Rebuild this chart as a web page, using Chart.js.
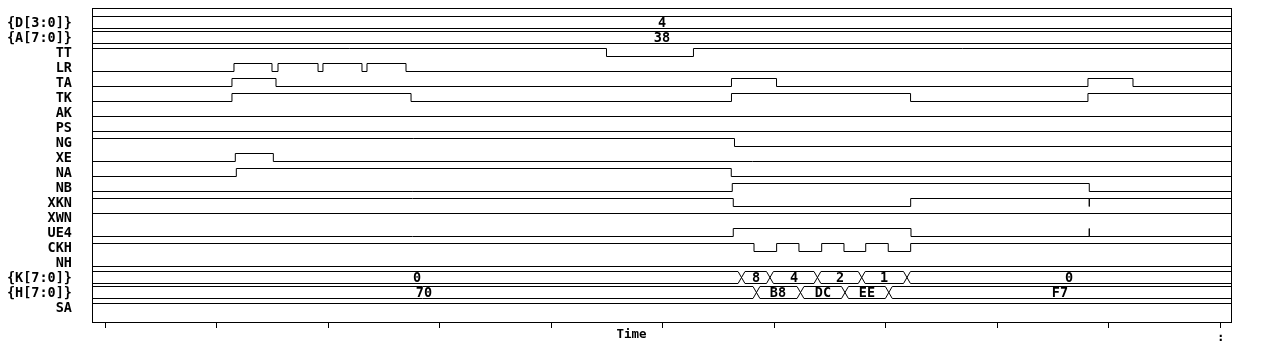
<!DOCTYPE html>
<html>
<head>
<meta charset="utf-8">
<script src="https://cdn.jsdelivr.net/npm/chart.js@4/dist/chart.umd.min.js"></script>
<style>
  html, body { margin: 0; padding: 0; background: #fff; }
  #wrap { width: 1273px; height: 351px; }
</style>
</head>
<body>
<div id="wrap"><canvas id="wave"></canvas></div>
<script>
// rows, top to bottom
const signalNames = ["{D[3:0]}", "{A[7:0]}", "TT", "LR", "TA", "TK", "AK", "PS", "NG", "XE",
                     "NA", "NB", "XKN", "XWN", "UE4", "CKH", "NH", "{K[7:0]}", "{H[7:0]}", "SA"];
const timeTicks = [0, 100, 200, 300, 400, 500, 600, 700, 800, 900, 1000];

// single bit signals: level at start, then the times where it toggles
const bitNames = ["TT", "LR", "TA", "TK", "AK", "PS", "NG", "XE", "NA", "NB", "XKN", "XWN", "UE4", "CKH", "NH", "SA"];
const bitStart = [1, 0, 0, 0, 0, 0, 1, 0, 0, 0, 1, 1, 0, 1, 0, 1];
const bitEdges = [
  [449.5, 527.5],
  [115.4, 149.5, 154.9, 190.8, 195.2, 230.2, 234.7, 269.7],
  [113.6, 153.1, 561.6, 602.0, 881.3, 921.7],
  [113.6, 274.2, 561.6, 722.2, 881.3],
  [],
  [],
  [564.3],
  [116.6, 150.7],
  [117.5, 561.4],
  [562.3, 882.5],
  [563.2, 722.3, 882.5, 882.5],
  [],
  [563.2, 722.6, 882.5, 882.5],
  [581.8, 602.1, 622.1, 642.5, 662.5, 682.0, 702.2, 722.3],
  [],
  []
];

// buses: values shown and the times where the value changes
const busNames = ["{D[3:0]}", "{A[7:0]}", "{K[7:0]}", "{H[7:0]}"];
const busValues = [["4"], ["38"], ["0", "8", "4", "2", "1", "0"], ["70", "B8", "DC", "EE", "F7"]];
const busEdges = [[], [], [570.6, 596.1, 638.7, 678.4, 719.0], [584.0, 623.5, 663.4, 702.7]];

// axis ranges
const xMin = -11.93, xMax = 1010.5;
const yMin = -14.5 / 15, yMax = -14.5 / 15 + 314 / 15;
const timeTitleAt = 472;

const bitSwing = 4 / 15;   // half height of a bit trace
const busSwing = 6 / 15;   // half height of a bus trace
const busSlope = 3.1;      // half width of a bus crossing

const black = "#000";
const monoFont = '"DejaVu Sans Mono", "Liberation Mono", monospace';

function lineSet(points, stepped) {
  return {
    data: points,
    borderColor: black,
    borderWidth: 1,
    pointRadius: 0,
    fill: false,
    tension: 0,
    stepped: stepped
  };
}

const datasets = [];

bitNames.forEach((name, i) => {
  const row = signalNames.indexOf(name);
  let level = bitStart[i];
  const yOf = l => row + (l ? -bitSwing : bitSwing);
  const pts = [{ x: xMin, y: yOf(level) }];
  bitEdges[i].forEach(t => {
    level = 1 - level;
    pts.push({ x: t, y: yOf(level) });
  });
  pts.push({ x: xMax, y: yOf(level) });
  datasets.push(lineSet(pts, true));
});

busNames.forEach((name, b) => {
  const row = signalNames.indexOf(name);
  [1, -1].forEach(side => {
    let s = side;
    const pts = [{ x: xMin, y: row - s * busSwing }];
    busEdges[b].forEach(t => {
      pts.push({ x: t - busSlope, y: row - s * busSwing });
      s = -s;
      pts.push({ x: t + busSlope, y: row - s * busSwing });
    });
    pts.push({ x: xMax, y: row - s * busSwing });
    datasets.push(lineSet(pts, false));
  });
});

// frame, bus values, axis title
const waveText = {
  id: "waveText",
  afterDatasetsDraw(chart) {
    const { ctx, chartArea: a, scales: { x, y } } = chart;
    ctx.save();
    ctx.strokeStyle = black;
    ctx.lineWidth = 1;
    const l = Math.round(a.left), t = Math.round(a.top);
    ctx.strokeRect(l + 0.5, t + 0.5, Math.round(a.right) - l - 1, Math.round(a.bottom) - t);

    ctx.fillStyle = black;
    ctx.textAlign = "center";
    ctx.textBaseline = "middle";
    ctx.font = "bold 13.5px " + monoFont;
    busNames.forEach((name, b) => {
      const row = signalNames.indexOf(name);
      const bounds = [xMin, ...busEdges[b], xMax];
      busValues[b].forEach((v, k) => {
        const mid = (x.getPixelForValue(bounds[k]) + x.getPixelForValue(bounds[k + 1])) / 2;
        ctx.fillText(v, Math.round(mid), y.getPixelForValue(row) + 1);
      });
    });

    ctx.font = "bold 12.5px " + monoFont;
    ctx.fillText("Time", x.getPixelForValue(timeTitleAt), a.bottom + 13);
    ctx.fillText(":", x.getPixelForValue(timeTicks[timeTicks.length - 1]) + 0.5, a.bottom + 16);
    ctx.restore();
  }
};

new Chart(document.getElementById("wave"), {
  type: "line",
  data: { datasets: datasets },
  options: {
    responsive: true,
    maintainAspectRatio: false,
    animation: false,
    events: [],
    layout: { padding: { top: 8, right: 41, bottom: 0, left: 0 } },
    plugins: { legend: { display: false }, tooltip: { enabled: false } },
    scales: {
      x: {
        type: "linear",
        min: xMin,
        max: xMax,
        afterBuildTicks: s => { s.ticks = timeTicks.map(v => ({ value: v })); },
        afterFit: s => { s.height = 29; s.paddingLeft = 0; s.paddingRight = 0; },
        ticks: { display: false },
        grid: { drawOnChartArea: false, drawTicks: true, tickLength: 6, color: black, lineWidth: 1 },
        border: { display: false }
      },
      y: {
        type: "linear",
        reverse: true,
        min: yMin,
        max: yMax,
        afterBuildTicks: s => { s.ticks = signalNames.map((n, i) => ({ value: i })); },
        afterFit: s => { s.width = 92; s.paddingTop = 0; s.paddingBottom = 0; },
        ticks: {
          autoSkip: false,
          padding: 20,
          labelOffset: 1,
          color: black,
          font: { family: monoFont, size: 13.5, weight: "bold" },
          callback: v => signalNames[v]
        },
        grid: { display: false, drawTicks: false },
        border: { display: false }
      }
    }
  },
  plugins: [waveText]
});
</script>
</body>
</html>
